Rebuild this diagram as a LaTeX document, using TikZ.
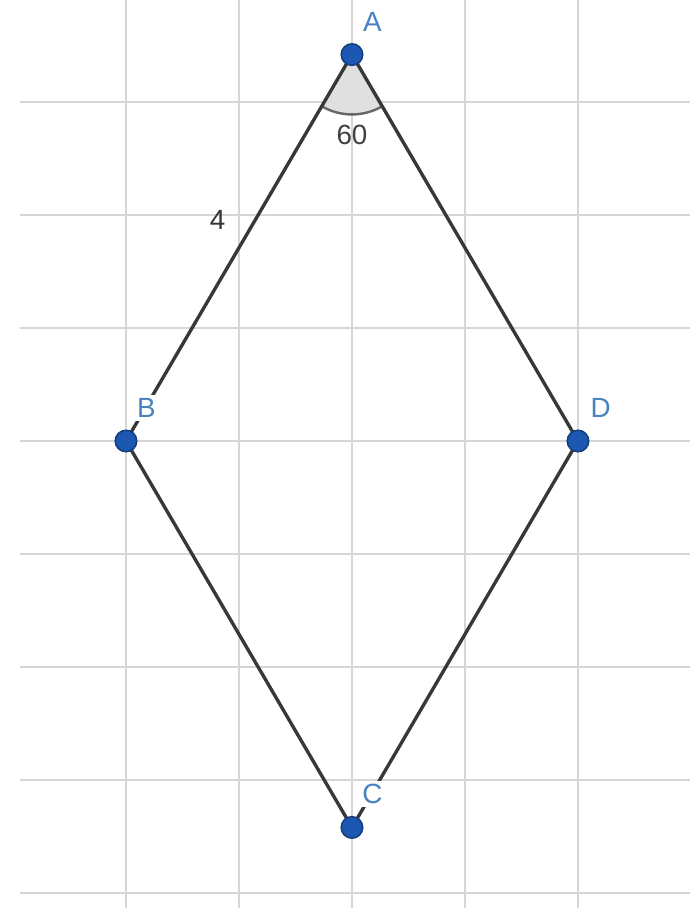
\documentclass[tikz,border=0pt]{standalone}
\usepackage{fontspec}
\setmainfont{Liberation Sans}
\definecolor{ptblue}{RGB}{28,88,178}
\definecolor{lblblue}{RGB}{72,130,192}

\begin{document}
\begin{tikzpicture}[
    x=1cm,
    y=1cm,
    every node/.style={font=\fontsize{7}{8}\selectfont},
    gridline/.style={draw=black!16, line width=0.5pt},
    side/.style={draw=black!78, line width=0.85pt},
    pt/.style={circle, draw=ptblue!70!black, fill=ptblue, line width=0.4pt, inner sep=0pt, minimum size=1.9mm},
    ptlabel/.style={text=lblblue, fill=white, inner sep=0.8pt},
    anglefill/.style={fill=black!12},
    anglearc/.style={draw=black!60, line width=0.6pt}
  ]
    \useasboundingbox (-3.115,-4.133) rectangle (2.991,3.903);

    % grid
    \foreach \x in {-2,...,2}
      \draw[gridline] (\x,-4.133) -- (\x,3.903);
    \foreach \y in {-4,...,3}
      \draw[gridline] (-2.94,\y) -- (2.991,\y);

    \coordinate (A) at (0,3.42);
    \coordinate (B) at (-2,0);
    \coordinate (C) at (0,-3.42);
    \coordinate (D) at (2,0);

    % angle at A
    \fill[anglefill] (A) -- ++(-120.3:0.53) arc[start angle=-120.3, end angle=-59.7, radius=0.53] -- cycle;
    \draw[anglearc] (A) ++(-120.3:0.53) arc[start angle=-120.3, end angle=-59.7, radius=0.53];

    \draw[side] (A) -- (B);
    \draw[side] (B) -- (C);
    \draw[side] (C) -- (D);
    \draw[side] (D) -- (A);

    \node[text=black!75] (ang) at (0,2.71) {60};
    \node[text=black!80] (len) at (-1.19,1.96) {4};

    \node[ptlabel] (labA) at ([shift={(0.18,0.29)}]A) {A};
    \node[ptlabel] (labB) at ([shift={(0.18,0.29)}]B) {B};
    \node[ptlabel] (labC) at ([shift={(0.18,0.30)}]C) {C};
    \node[ptlabel] (labD) at ([shift={(0.2,0.29)}]D) {D};

    \node[pt] (ptA) at (A) {};
    \node[pt] (ptB) at (B) {};
    \node[pt] (ptC) at (C) {};
    \node[pt] (ptD) at (D) {};
  \end{tikzpicture}
\end{document}
